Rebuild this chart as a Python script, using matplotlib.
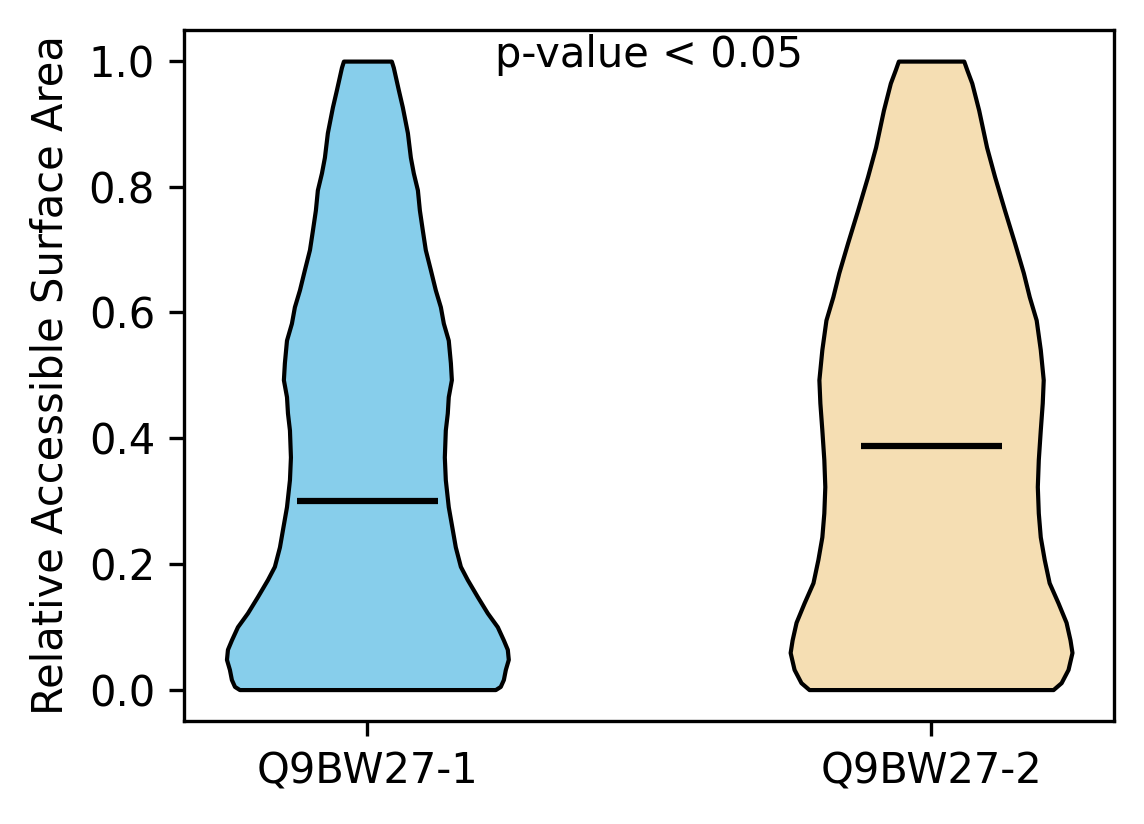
import numpy as np
import matplotlib
matplotlib.use("Agg")
import matplotlib.pyplot as plt

# groups and their summary values
labels = ["Q9BW27-1", "Q9BW27-2"]
medians = [0.30, 0.388]
colors = ["skyblue", "wheat"]

# violin outline: y levels and relative density (half-width) at each level
y1 = [0.0, 0.005, 0.016, 0.032, 0.048, 0.064, 0.079, 0.100, 0.122, 0.148,
      0.175, 0.196, 0.227, 0.254, 0.291, 0.334, 0.37, 0.413, 0.44, 0.466,
      0.493, 0.520, 0.556, 0.583, 0.609, 0.636, 0.668, 0.700, 0.731, 0.763,
      0.795, 0.822, 0.847, 0.886, 0.927, 0.954, 0.975, 0.990, 1.0]
d1 = [0.908, 0.943, 0.965, 0.979, 1.0, 0.993, 0.965, 0.922, 0.851, 0.780,
      0.709, 0.660, 0.624, 0.603, 0.574, 0.553, 0.546, 0.553, 0.567, 0.574,
      0.596, 0.589, 0.574, 0.539, 0.518, 0.482, 0.447, 0.411, 0.390, 0.369,
      0.355, 0.326, 0.305, 0.284, 0.248, 0.220, 0.199, 0.184, 0.170]

y2 = [0.0, 0.011, 0.032, 0.059, 0.079, 0.107, 0.138, 0.170, 0.207, 0.243,
      0.281, 0.323, 0.366, 0.413, 0.456, 0.493, 0.541, 0.588, 0.625, 0.663,
      0.711, 0.763, 0.816, 0.863, 0.922, 0.965, 0.986, 1.0]
d2 = [0.866, 0.923, 0.972, 1.0, 0.986, 0.958, 0.901, 0.838, 0.803, 0.775,
      0.761, 0.754, 0.761, 0.775, 0.789, 0.796, 0.775, 0.746, 0.697, 0.655,
      0.592, 0.521, 0.451, 0.394, 0.338, 0.289, 0.254, 0.232]

stats = []
for ys, ds, med in zip([y1, y2], [d1, d2], medians):
    stats.append({
        "coords": np.array(ys),
        "vals": np.array(ds),
        "mean": med,
        "median": med,
        "min": ys[0],
        "max": ys[-1],
    })

fig, ax = plt.subplots(figsize=(1144 / 300, 824 / 300), dpi=300)
fig.subplots_adjust(left=0.161, right=0.974, top=0.964, bottom=0.125)

parts = ax.violin(stats, positions=[1, 2], widths=0.5,
                  showmedians=True, showextrema=False)
for body, c in zip(parts["bodies"], colors):
    body.set_facecolor(c)
    body.set_edgecolor("black")
    body.set_linewidth(1.0)
    body.set_alpha(1)
parts["cmedians"].set_color("black")
parts["cmedians"].set_linewidth(1.5)

ax.set_xticks([1, 2])
ax.set_xticklabels(labels)
ax.set_ylabel("Relative Accessible Surface Area")
ax.text(1.5, 0.99, "p-value < 0.05", ha="center")

fig.savefig("out.png", dpi=300)
